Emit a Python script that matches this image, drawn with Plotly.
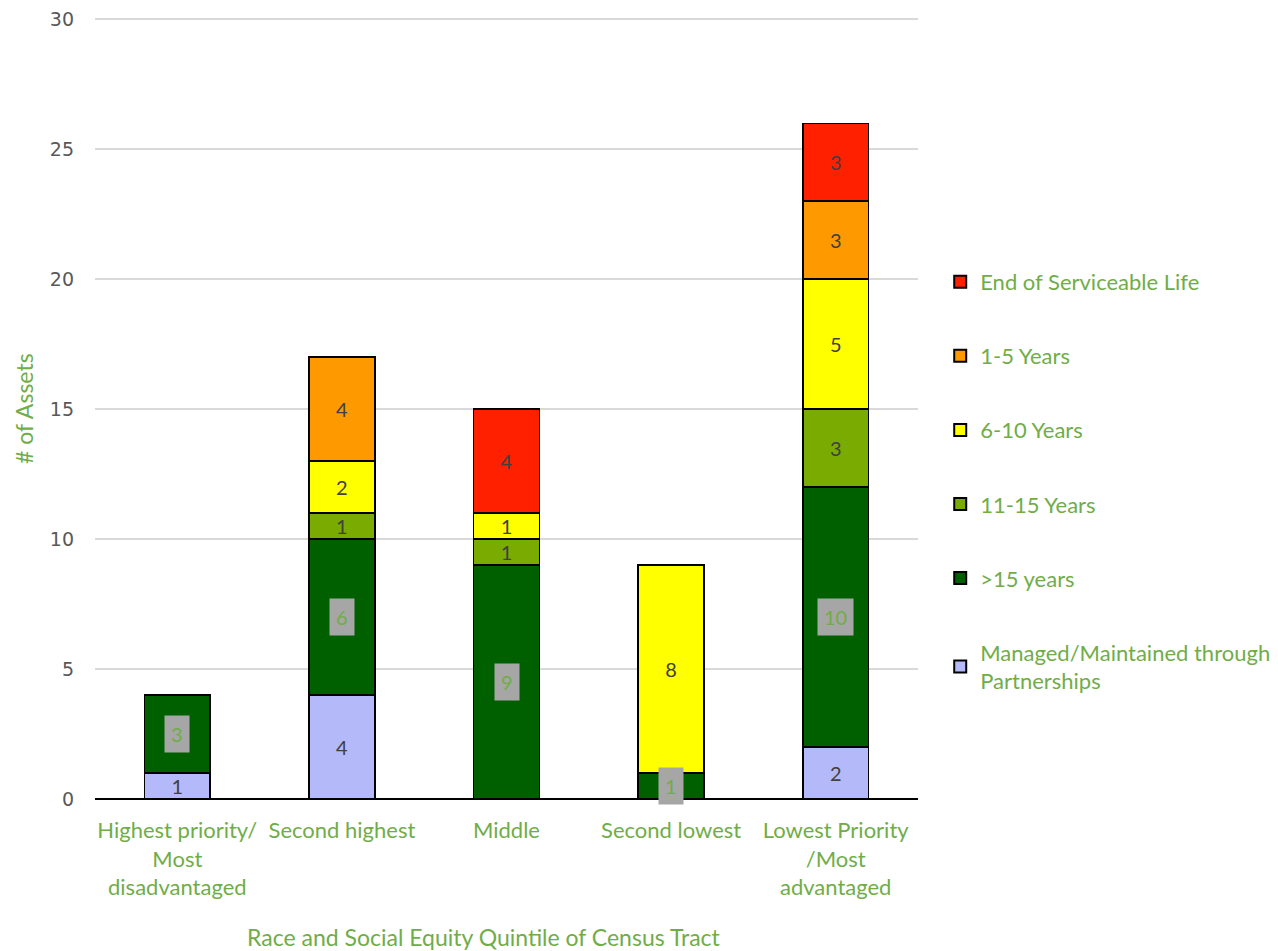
import plotly.graph_objects as go

categories = ["Highest priority/<br>Most<br>disadvantaged", "Second highest", "Middle",
              "Second lowest", "Lowest Priority<br>/Most<br>advantaged"]
managed = [1, 4, None, None, 2]
over15 = [3, 6, 9, 1, 10]
y11_15 = [None, 1, 1, None, 3]
y6_10 = [None, 2, 1, 8, 5]
y1_5 = [None, 4, None, None, 3]
end_life = [None, None, 4, None, 3]

series = [
    ("Managed/Maintained through<br>Partnerships", managed, "#b4b9fa"),
    (">15 years", over15, "#006000"),
    ("11-15 Years", y11_15, "#7aab00"),
    ("6-10 Years", y6_10, "#ffff00"),
    ("1-5 Years", y1_5, "#ff9900"),
    ("End of Serviceable Life", end_life, "#ff2000"),
]

GREEN = "#70ad47"
FONT = "Lato"

fig = go.Figure()
n = len(series)
for i, (name, vals, color) in enumerate(series):
    is_dark = name == ">15 years"
    fig.add_trace(go.Bar(
        x=categories, y=vals, name=name, legendgroup=str(i), legendrank=n - i,
        marker=dict(color=color, line=dict(color="black", width=1.5)),
        text=None if is_dark else [("" if v is None else str(v)) for v in vals],
        textposition="inside", insidetextanchor="middle", textangle=0,
        constraintext="none",
        textfont=dict(color="#404040", size=20, family=FONT),
        width=0.4,
    ))

# gray-box labels for >15 years segments
for c, base, v in zip(categories, managed, over15):
    b = base or 0
    fig.add_annotation(x=c, y=b + v / 2, xref="x", yref="y", text=str(v),
                       showarrow=False, bgcolor="#a6a6a6", borderpad=6,
                       font=dict(color=GREEN, size=20, family=FONT))

fig.add_annotation(x=0.4727, y=-0.177, xref="paper", yref="paper",
                   text="Race and Social Equity Quintile of Census Tract",
                   showarrow=False, xanchor="center", yanchor="middle",
                   font=dict(color=GREEN, size=23, family=FONT))
fig.add_annotation(x=-0.087, y=0.5, xref="paper", yref="paper",
                   text="# of Assets", textangle=-90,
                   showarrow=False, xanchor="center", yanchor="middle",
                   font=dict(color=GREEN, size=23, family=FONT))

fig.update_layout(
    barmode="stack",
    width=1278, height=951,
    margin=dict(l=95, r=360, t=18, b=152, autoexpand=False),
    plot_bgcolor="white", paper_bgcolor="white",
    font=dict(family=FONT),
    legend=dict(x=1.027, xanchor="left", y=0.689, yanchor="top",
                traceorder="grouped", tracegroupgap=42.5,
                font=dict(color=GREEN, size=22, family=FONT),
                itemwidth=30, itemsizing="constant"),
    xaxis=dict(tickfont=dict(color=GREEN, size=22, family=FONT), automargin=False,
               ticklabelstandoff=16, showline=False, ticks=""),
    yaxis=dict(range=[0, 30.05], tickvals=[0, 5, 10, 15, 20, 25, 30],
               showgrid=True, gridcolor="#d9d9d9", gridwidth=1.5,
               zeroline=True, zerolinecolor="black", zerolinewidth=1.5, automargin=False,
               tickfont=dict(color="#595959", size=19, family="DejaVu Sans"), ticks="",
               ticklabelstandoff=20),
)

fig.write_html("out.html")
